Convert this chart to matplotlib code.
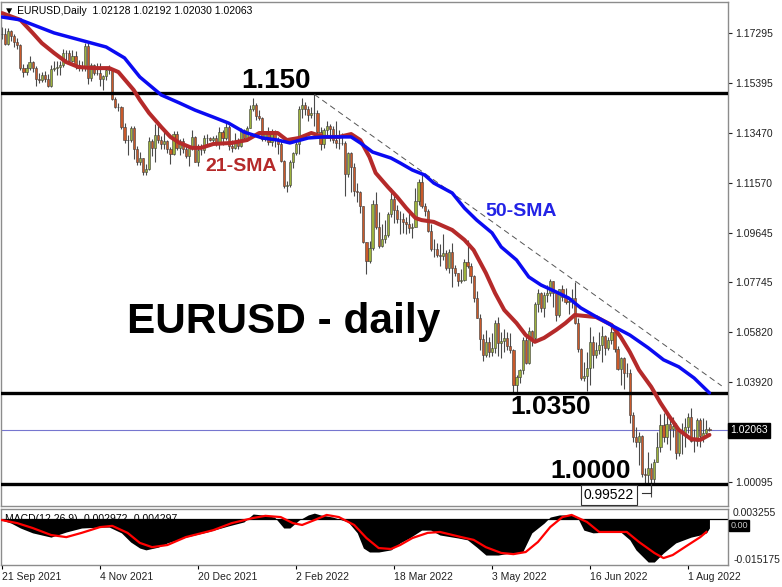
import numpy as np
import matplotlib.pyplot as plt

plt.rcParams['font.family'] = ['Liberation Sans', 'DejaVu Sans']

# ==========================================
# DATA (bar 0 = 21 Sep 2021)
# ==========================================
first_open = 1.1727

closes = [
    1.1726, 1.1688, 1.1740, 1.1720,
    1.1695, 1.1684, 1.1597, 1.1580, 1.1595,
    1.1620, 1.1598, 1.1556, 1.1552, 1.1570,
    1.1553, 1.1528, 1.1594, 1.1596, 1.1601,
    1.1609, 1.1654, 1.1653, 1.1624, 1.1644,
    1.1607, 1.1598, 1.1604, 1.1681, 1.1558,
    1.1607, 1.1579, 1.1577, 1.1555, 1.1567,
    1.1589, 1.1593, 1.1479, 1.1445, 1.1445,
    1.1369, 1.1320, 1.1319, 1.1367, 1.1287,
    1.1237, 1.1250, 1.1199, 1.1208, 1.1318,
    1.1290, 1.1338, 1.1320, 1.1306, 1.1315,
    1.1287, 1.1268, 1.1343, 1.1290, 1.1315,
    1.1285, 1.1258, 1.1290, 1.1330, 1.1237,
    1.1283, 1.1281, 1.1328, 1.1327, 1.1320,
    1.1327, 1.1312, 1.1349, 1.1326, 1.1370,
    1.1296, 1.1288, 1.1312, 1.1297, 1.1360,
    1.1326, 1.1368, 1.1440, 1.1456, 1.1411,
    1.1404, 1.1325, 1.1343, 1.1311, 1.1345,
    1.1325, 1.1304, 1.1241, 1.1143, 1.1147,
    1.1234, 1.1270, 1.1303, 1.1441, 1.1454,
    1.1440, 1.1415, 1.1422, 1.1425, 1.1350,
    1.1306, 1.1358, 1.1375, 1.1361, 1.1322,
    1.1308, 1.1309, 1.1308, 1.1190, 1.1270,
    1.1218, 1.1125, 1.1120, 1.1066, 1.0928,
    1.0855, 1.0905, 1.1075, 1.0986, 1.0912,
    1.0941, 1.0955, 1.1036, 1.1092, 1.1052,
    1.1016, 1.1017, 1.1005, 1.0998, 1.0983,
    1.0985, 1.1087, 1.1158, 1.1067, 1.1046,
    1.0970, 1.0903, 1.0903, 1.0878, 1.0877,
    1.0888, 1.0828, 1.0891, 1.0828, 1.0810,
    1.0780, 1.0785, 1.0853, 1.0836, 1.0797,
    1.0713, 1.0637, 1.0558, 1.0497, 1.0544,
    1.0507, 1.0522, 1.0620, 1.0541, 1.0550,
    1.0560, 1.0530, 1.0514, 1.0380, 1.0411,
    1.0437, 1.0553, 1.0464, 1.0586, 1.0560,
    1.0690, 1.0735, 1.0677, 1.0724, 1.0733,
    1.0778, 1.0733, 1.0647, 1.0750, 1.0719,
    1.0700, 1.0701, 1.0716, 1.0617, 1.0519,
    1.0408, 1.0416, 1.0445, 1.0544, 1.0495,
    1.0514, 1.0535, 1.0567, 1.0522, 1.0553,
    1.0584, 1.0518, 1.0443, 1.0484, 1.0426,
    1.0426, 1.0265, 1.0182, 1.0163, 1.0184,
    1.0040, 1.0036, 1.0061, 1.0018, 1.0086,
    1.0143, 1.0226, 1.0181, 1.0230, 1.0212,
    1.0223, 1.0118, 1.0202, 1.0195, 1.0220,
    1.0259, 1.0164, 1.0166, 1.0245, 1.0183,
    1.0196, 1.02128, 1.02063,
]

highs = [
    1.1752, 1.1750, 1.1750, 1.1744,
    1.1726, 1.1711, 1.1688, 1.1612, 1.1612,
    1.1641, 1.1625, 1.1603, 1.1576, 1.1582,
    1.1586, 1.1572, 1.1609, 1.1624, 1.1624,
    1.1623, 1.1669, 1.1667, 1.1665, 1.1664,
    1.1662, 1.1626, 1.1624, 1.1692, 1.1692,
    1.1616, 1.1613, 1.1617, 1.1616, 1.1570,
    1.1597, 1.1608, 1.1597, 1.1486, 1.1464,
    1.1449, 1.1385, 1.1340, 1.1374, 1.1373,
    1.1299, 1.1273, 1.1252, 1.1229, 1.1330,
    1.1325, 1.1383, 1.1383, 1.1335, 1.1353,
    1.1319, 1.1292, 1.1355, 1.1353, 1.1323,
    1.1326, 1.1305, 1.1300, 1.1360, 1.1335,
    1.1306, 1.1306, 1.1340, 1.1345, 1.1333,
    1.1334, 1.1339, 1.1369, 1.1360, 1.1386,
    1.1376, 1.1320, 1.1346, 1.1326, 1.1368,
    1.1364, 1.1375, 1.1453, 1.1482, 1.1464,
    1.1435, 1.1410, 1.1352, 1.1370, 1.1363,
    1.1358, 1.1330, 1.1317, 1.1244, 1.1163,
    1.1243, 1.1276, 1.1322, 1.1449, 1.1483,
    1.1466, 1.1450, 1.1448, 1.1495, 1.1436,
    1.1372, 1.1368, 1.1395, 1.1381, 1.1373,
    1.1395, 1.1360, 1.1346, 1.1317, 1.1273,
    1.1275, 1.1233, 1.1154, 1.1125, 1.1066,
    1.0930, 1.0932, 1.1090, 1.1121, 1.1043,
    1.0999, 1.1015, 1.1043, 1.1137, 1.1110,
    1.1070, 1.1046, 1.1039, 1.1024, 1.1040,
    1.1002, 1.1137, 1.1171, 1.1185, 1.1077,
    1.1055, 1.0998, 1.0939, 1.0926, 1.0921,
    1.0958, 1.0900, 1.0901, 1.0925, 1.0840,
    1.0810, 1.0824, 1.0865, 1.0936, 1.0849,
    1.0804, 1.0740, 1.0653, 1.0575, 1.0593,
    1.0566, 1.0581, 1.0630, 1.0642, 1.0584,
    1.0594, 1.0583, 1.0578, 1.0519, 1.0420,
    1.0443, 1.0563, 1.0568, 1.0603, 1.0592,
    1.0697, 1.0749, 1.0736, 1.0738, 1.0765,
    1.0787, 1.0781, 1.0737, 1.0750, 1.0764,
    1.0752, 1.0711, 1.0748, 1.0774, 1.0637,
    1.0523, 1.0470, 1.0506, 1.0601, 1.0570,
    1.0544, 1.0583, 1.0605, 1.0573, 1.0566,
    1.0615, 1.0606, 1.0530, 1.0486, 1.0487,
    1.0463, 1.0443, 1.0276, 1.0220, 1.0200,
    1.0188, 1.0062, 1.0122, 1.0082, 1.0096,
    1.0200, 1.0269, 1.0273, 1.0278, 1.0257,
    1.0258, 1.0236, 1.0215, 1.0235, 1.0255,
    1.0274, 1.0294, 1.0212, 1.0254, 1.0254,
    1.0254, 1.0248, 1.02192,
]

lows = [
    1.1708, 1.1684, 1.1684, 1.1700,
    1.1676, 1.1669, 1.1590, 1.1563, 1.1570,
    1.1589, 1.1580, 1.1529, 1.1540, 1.1541,
    1.1544, 1.1524, 1.1524, 1.1585, 1.1571,
    1.1571, 1.1600, 1.1617, 1.1618, 1.1620,
    1.1591, 1.1585, 1.1585, 1.1586, 1.1535,
    1.1545, 1.1570, 1.1571, 1.1528, 1.1513,
    1.1550, 1.1575, 1.1475, 1.1443, 1.1433,
    1.1362, 1.1309, 1.1264, 1.1312, 1.1249,
    1.1226, 1.1226, 1.1186, 1.1186, 1.1205,
    1.1258, 1.1235, 1.1309, 1.1284, 1.1286,
    1.1270, 1.1228, 1.1262, 1.1282, 1.1262,
    1.1269, 1.1252, 1.1222, 1.1282, 1.1234,
    1.1222, 1.1262, 1.1271, 1.1306, 1.1317,
    1.1308, 1.1299, 1.1287, 1.1300, 1.1320,
    1.1281, 1.1273, 1.1285, 1.1285, 1.1292,
    1.1315, 1.1315, 1.1365, 1.1433, 1.1398,
    1.1397, 1.1317, 1.1315, 1.1301, 1.1299,
    1.1293, 1.1265, 1.1236, 1.1137, 1.1121,
    1.1140, 1.1212, 1.1264, 1.1265, 1.1403,
    1.1416, 1.1395, 1.1403, 1.1373, 1.1340,
    1.1280, 1.1290, 1.1337, 1.1315, 1.1310,
    1.1291, 1.1287, 1.1300, 1.1106, 1.1180,
    1.1120, 1.1105, 1.1084, 1.1040, 1.0925,
    1.0806, 1.0850, 1.0900, 1.0980, 1.0905,
    1.0910, 1.0927, 1.0950, 1.1024, 1.1003,
    1.1003, 1.0960, 1.0963, 1.0961, 1.0964,
    1.0944, 1.0985, 1.1071, 1.1060, 1.1028,
    1.0966, 1.0895, 1.0873, 1.0873, 1.0838,
    1.0860, 1.0821, 1.0811, 1.0757, 1.0800,
    1.0761, 1.0772, 1.0780, 1.0830, 1.0770,
    1.0697, 1.0636, 1.0516, 1.0471, 1.0487,
    1.0489, 1.0492, 1.0505, 1.0493, 1.0484,
    1.0508, 1.0513, 1.0502, 1.0355, 1.0350,
    1.0389, 1.0423, 1.0460, 1.0462, 1.0530,
    1.0547, 1.0659, 1.0660, 1.0643, 1.0699,
    1.0720, 1.0680, 1.0627, 1.0642, 1.0703,
    1.0692, 1.0654, 1.0675, 1.0615, 1.0508,
    1.0398, 1.0397, 1.0359, 1.0382, 1.0445,
    1.0485, 1.0501, 1.0469, 1.0496, 1.0514,
    1.0537, 1.0508, 1.0436, 1.0382, 1.0366,
    1.0410, 1.0236, 1.0162, 1.0144, 1.0072,
    1.0029, 0.9999, 0.9998, 0.9952, 1.0006,
    1.0086, 1.0124, 1.0160, 1.0154, 1.0130,
    1.0181, 1.0097, 1.0109, 1.0114, 1.0144,
    1.0198, 1.0161, 1.0123, 1.0146, 1.0142,
    1.0161, 1.0187, 1.02030,
]

# moving averages (bar, price)
sma21_bar = [0, 6, 10, 13, 17, 21, 25, 30, 35, 38, 43, 45, 48, 52, 55, 58, 62, 65, 69, 75,
             80, 84, 90, 93, 97, 101, 105, 110, 114, 117, 120, 122, 126, 129, 132, 135, 137, 141,
             147, 151, 154, 158, 161, 164, 168, 171, 174, 177, 181, 184, 187, 194, 199, 202, 205,
             208, 212, 215, 218, 221, 225, 228, 231]
sma21_val = [1.1807, 1.1781, 1.1731, 1.1692, 1.1654, 1.1619, 1.1600, 1.1596, 1.1596, 1.1581,
             1.1512, 1.1474, 1.1424, 1.1370, 1.1332, 1.1309, 1.1290, 1.1290, 1.1305, 1.1309,
             1.1320, 1.1347, 1.1347, 1.1320, 1.1328, 1.1347, 1.1332, 1.1332, 1.1343, 1.1320,
             1.1255, 1.1194, 1.1140, 1.1102, 1.1059, 1.1021, 1.1013, 1.1006, 1.0975, 1.0937,
             1.0898, 1.0810, 1.0733, 1.0668, 1.0618, 1.0572, 1.0546, 1.0561, 1.0592, 1.0618,
             1.0649, 1.0641, 1.0611, 1.0565, 1.0507, 1.0438, 1.0373, 1.0312, 1.0258, 1.0208,
             1.0173, 1.0170, 1.0189]

sma50_bar = [0, 6, 17, 22, 28, 34, 40, 45, 52, 58, 63, 69, 74, 79, 85, 90, 94, 100, 105, 110,
             114, 117, 121, 127, 130, 134, 138, 141, 147, 151, 155, 160, 163, 168, 172, 176, 181,
             185, 189, 193, 200, 205, 211, 216, 221, 226, 231]
sma50_val = [1.1792, 1.1781, 1.1731, 1.1715, 1.1696, 1.1677, 1.1635, 1.1562, 1.1493, 1.1462,
             1.1435, 1.1408, 1.1385, 1.1351, 1.1328, 1.1320, 1.1309, 1.1328, 1.1332, 1.1332,
             1.1332, 1.1309, 1.1274, 1.1251, 1.1232, 1.1205, 1.1186, 1.1155, 1.1117, 1.1059,
             1.1013, 1.0964, 1.0910, 1.0860, 1.0795, 1.0764, 1.0737, 1.0714, 1.0676, 1.0649,
             1.0603, 1.0572, 1.0523, 1.0477, 1.0450, 1.0407, 1.0350]

# MACD(12,26,9) main (histogram) and signal
macd_bar = [0, 3, 6, 10, 16, 21, 26, 32, 35, 39, 42, 45, 47, 51, 54, 60, 67, 74, 79, 82,
            85, 89, 92, 94, 97, 100, 102, 104, 108, 113, 116, 118, 120, 123, 127, 130, 133, 137,
            140, 143, 149, 152, 155, 158, 162, 166, 170, 173, 177, 179, 182, 186, 188, 190, 193,
            198, 202, 205, 207, 211, 213, 216, 220, 225, 228, 230, 231]
macd_val = [-0.0004, -0.0014, -0.0030, -0.0046, -0.0060, -0.0043, -0.0030, -0.0027, -0.0027,
            -0.0046, -0.0076, -0.0096, -0.0102, -0.0093, -0.0079, -0.0060, -0.0043, -0.0023,
            -0.0010, 0.0016, 0.0013, 0.0006, -0.0030, -0.0030, -0.0004, 0.0013, 0.0019, 0.0013,
            0.0006, -0.0010, -0.0046, -0.0096, -0.0109, -0.0109, -0.0102, -0.0079, -0.0063,
            -0.0037, -0.0037, -0.0053, -0.0063, -0.0069, -0.0093, -0.0119, -0.0119, -0.0112,
            -0.0109, -0.0046, -0.0014, 0.0006, 0.0013, 0.0013, 0.0003, -0.0037, -0.0046,
            -0.0043, -0.0043, -0.0069, -0.0102, -0.0142, -0.0142, -0.0112, -0.0079, -0.0060,
            -0.0053, -0.0046, -0.0030]

signal_bar = [0, 5, 10, 16, 21, 26, 32, 36, 41, 45, 49, 54, 60, 69, 75, 82, 86, 91, 95, 98,
              102, 106, 110, 115, 119, 123, 127, 130, 134, 139, 143, 150, 154, 158, 163, 167,
              171, 175, 179, 183, 186, 191, 195, 200, 204, 208, 213, 216, 219, 224, 228, 230]
signal_val = [-0.0004, -0.0014, -0.0030, -0.0053, -0.0060, -0.0046, -0.0027, -0.0023, -0.0046,
              -0.0079, -0.0093, -0.0086, -0.0060, -0.0037, -0.0014, 0.0003, 0.0010, 0.0006,
              -0.0014, -0.0020, -0.0004, 0.0013, 0.0006, -0.0020, -0.0063, -0.0096, -0.0099,
              -0.0086, -0.0063, -0.0046, -0.0043, -0.0060, -0.0069, -0.0093, -0.0112, -0.0116,
              -0.0109, -0.0076, -0.0027, 0.0006, 0.0013, -0.0010, -0.0043, -0.0043, -0.0043,
              -0.0076, -0.0112, -0.0129, -0.0119, -0.0086, -0.0060, -0.0043]

key_levels = [1.150, 1.0350, 1.0000]
last_price = 1.02063
low_price = 0.99522
trend_bars = [102, 235]
trend_prices = [1.1495, 1.0377]

price_ticks = [1.17295, 1.15395, 1.13470, 1.11570, 1.09645, 1.07745, 1.05820, 1.03920, 1.00095]
date_pos = [0, 32, 64, 96, 128, 160, 192, 224]
date_labels = ['21 Sep 2021', '4 Nov 2021', '20 Dec 2021', '2 Feb 2022',
               '18 Mar 2022', '3 May 2022', '16 Jun 2022', '1 Aug 2022']

# ==========================================
# FIGURE LAYOUT
# ==========================================
W, H = 782, 587
fig = plt.figure(figsize=(W / 100, H / 100), dpi=100)
ax = fig.add_axes([1 / W, (H - 506) / H, 727 / W, 504 / H])
ax2 = fig.add_axes([1 / W, (H - 565) / H, 727 / W, 56 / H])

for a in (ax, ax2):
    a.set_xlim(-0.327, 237.06)
    for s in a.spines.values():
        s.set_color('#8c8c8c')
        s.set_linewidth(1.0)

ax.set_ylim(0.99162, 1.18496)
ax2.set_ylim(-0.015175, 0.003255)

# ==========================================
# CANDLES
# ==========================================
o = np.array([first_open] + closes[:-1])
c = np.array(closes)
h = np.array(highs)
l = np.array(lows)
x = np.arange(len(c))
up = c >= o
body_lo = np.minimum(o, c)
body_h = np.maximum(np.abs(c - o), 0.00008)

ax.vlines(x, l, h, color='#4a4a4a', lw=0.8, zorder=2)
ax.bar(x[up], body_h[up], bottom=body_lo[up], width=0.72, color='#9db23c',
       edgecolor='#3c3c3c', lw=0.4, zorder=3)
ax.bar(x[~up], body_h[~up], bottom=body_lo[~up], width=0.72, color='#c9592a',
       edgecolor='#3c3c3c', lw=0.4, zorder=3)

# levels, current price, trend line
ax.axhline(last_price, color='#7676cf', lw=0.8, zorder=1)
for lvl in key_levels:
    ax.axhline(lvl, color='black', lw=2.4, zorder=4)
ax.plot(trend_bars, trend_prices, color='#555555', lw=0.7, ls=(0, (6, 4)), zorder=4)

# moving averages
ax.plot(sma21_bar, sma21_val, color='#b52a2a', lw=2.9, solid_capstyle='round', zorder=5)
ax.plot(sma50_bar, sma50_val, color='#0b0bf2', lw=2.5, solid_capstyle='round', zorder=6)

# ==========================================
# TEXT ON THE PRICE PANEL
# ==========================================
ax.text(89.5, 1.1518, '1.150', fontsize=20, fontweight='bold', ha='center', va='baseline', zorder=7)
ax.text(179, 1.0270, '1.0350', fontsize=19, fontweight='bold', ha='center', va='baseline', zorder=7)
ax.text(192.3, 1.0024, '1.0000', fontsize=19, fontweight='bold', ha='center', va='baseline', zorder=7)
ax.text(91.9, 1.0580, 'EURUSD - daily', fontsize=30.5, fontweight='bold', ha='center',
        va='baseline', zorder=7)
ax.text(78, 1.1201, '21-SMA', fontsize=14, fontweight='bold', color='#b52a2a',
        ha='center', va='baseline', zorder=7)
ax.text(169.6, 1.1029, '50-SMA', fontsize=14, fontweight='bold', color='#2323e6',
        ha='center', va='baseline', zorder=7)

# low label with its hook to the candle
ax.text(198.2, 0.99584, f'{low_price:.5f}', fontsize=10, ha='center', va='center', zorder=8,
        bbox=dict(boxstyle='square,pad=0.2', facecolor='white', edgecolor='#333333', lw=0.8))
ax.plot([208.9, 212, 212], [0.99661, 0.99661, 1.0000], color='#333333', lw=0.8, zorder=8)

ax.text(0.004, 0.993, '\u25bc EURUSD,Daily  1.02128 1.02192 1.02030 1.02063',
        transform=ax.transAxes, fontsize=7.5, va='top', ha='left', zorder=9)

# price scale on the right
ax.set_xticks([])
ax.yaxis.tick_right()
ax.set_yticks(price_ticks)
ax.set_yticklabels([f'{p:.5f}' for p in price_ticks])
ax.tick_params(axis='y', length=3, width=0.8, pad=2, labelsize=7.5, colors='#222222')
ax.text(1.003, last_price, f'{last_price:.5f}', transform=ax.get_yaxis_transform(),
        fontsize=7.5, color='white', ha='left', va='center', clip_on=False, zorder=10,
        bbox=dict(boxstyle='square,pad=0.25', facecolor='black', edgecolor='black'))

# ==========================================
# MACD PANEL
# ==========================================
ax2.text(0.005, 0.83, 'MACD(12,26,9) -0.002972 -0.004297', transform=ax2.transAxes,
         fontsize=7.5, va='center', ha='left', zorder=1)
ax2.fill_between(macd_bar, 0, macd_val, color='black', lw=0, zorder=2)
ax2.axhline(0, color='black', lw=0.9, zorder=2)
ax2.plot(signal_bar, signal_val, color='#ff0000', lw=1.6, zorder=3)

ax2.set_yticks([])
ax2.text(1.007, 0.93, '0.003255', transform=ax2.transAxes, fontsize=7.5, va='center',
         ha='left', clip_on=False, color='#222222')
ax2.text(1.007, 0.09, '-0.015175', transform=ax2.transAxes, fontsize=7.5, va='center',
         ha='left', clip_on=False, color='#222222')
ax2.text(1.003, 0.70, '0.00', transform=ax2.transAxes, fontsize=6.5, va='center', ha='left',
         clip_on=False, color='#c8c8c8',
         bbox=dict(boxstyle='square,pad=0.1', facecolor='black', edgecolor='black'))

ax2.set_xticks(date_pos)
ax2.set_xticklabels(date_labels, fontsize=7.5, ha='left', color='#222222')
ax2.tick_params(axis='x', length=3, width=0.8, pad=2)

fig.savefig('out.png', dpi=100)
